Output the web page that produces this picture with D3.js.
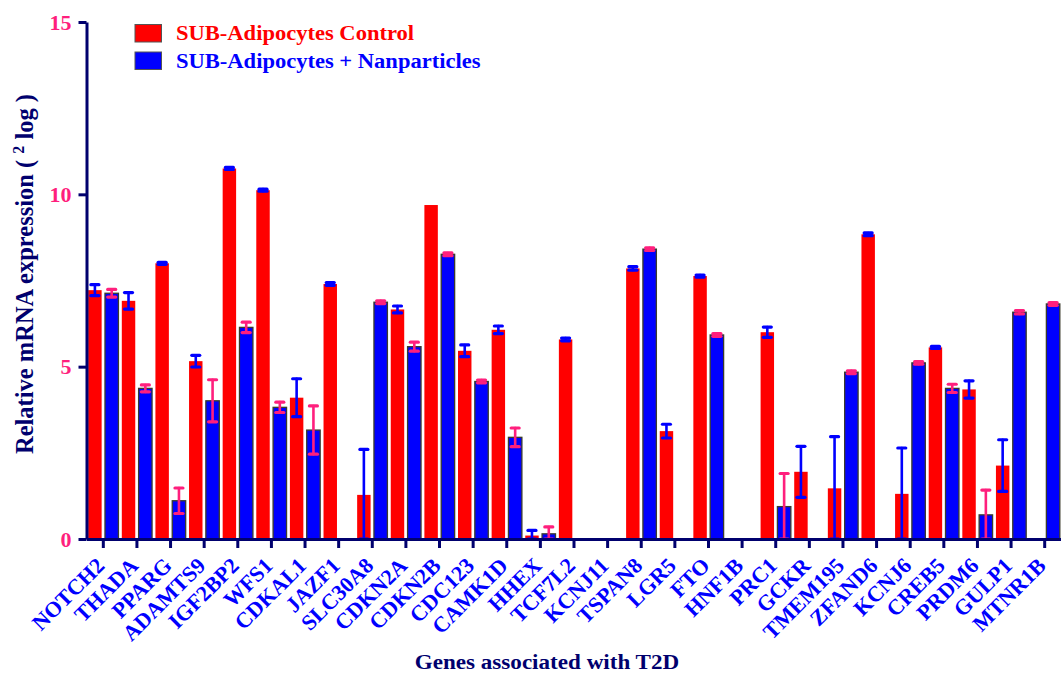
<!DOCTYPE html>
<html>
<head>
<meta charset="utf-8">
<script src="https://cdn.jsdelivr.net/npm/d3@7"></script>
<style>
    body { margin: 0; background: #fff; }
    svg { display: block; font-family: "Liberation Serif", "Times New Roman", serif; font-weight: bold; }
</style>
</head>
<body>
<svg id="chart" width="1061" height="673"></svg>
<script>
// Genes on the x axis
const genes = ['NOTCH2', 'THADA', 'PPARG', 'ADAMTS9', 'IGF2BP2', 'WFS1', 'CDKAL1', 'JAZF1',
    'SLC30A8', 'CDKN2A', 'CDKN2B', 'CDC123', 'CAMK1D', 'HHEX', 'TCF7L2', 'KCNJ11', 'TSPAN8',
    'LGR5', 'FTO', 'HNF1B', 'PRC1', 'GCKR', 'TMEM195', 'ZFAND6', 'KCNJ6', 'CREB5', 'PRDM6',
    'GULP1', 'MTNR1B'];

// SUB-Adipocytes Control (mean, error)
const controlValues = [7.22, 6.91, 8.0, 5.16, 10.75, 10.12, 4.1, 7.4, 1.28, 6.66, 9.69, 5.46,
    6.07, 0.1, 5.79, null, 7.85, 3.13, 7.63, null, 6.0, 1.95, 1.47, 8.84, 1.31, 5.56, 4.34,
    2.13, null];
const controlErrors = [0.16, 0.24, 0.03, 0.17, 0.03, 0.03, 0.55, 0.04, 1.32, 0.1, 0, 0.17,
    0.11, 0.15, 0.04, null, 0.05, 0.2, 0.03, null, 0.15, 0.74, 1.5, 0.04, 1.33, 0.03, 0.25,
    0.75, null];

// SUB-Adipocytes + Nanparticles (mean, error)
const nanoValues = [7.13, 4.37, 1.11, 4.01, 6.14, 3.82, 3.16, null, 6.87, 5.58, 8.26, 4.57,
    2.95, 0.15, null, null, 8.41, null, 5.92, null, 0.94, null, 4.84, null, 5.11, 4.37, 0.7,
    6.58, 6.82];
const nanoErrors = [0.11, 0.1, 0.37, 0.61, 0.15, 0.15, 0.7, null, 0.04, 0.13, 0.04, 0.04,
    0.27, 0.2, null, null, 0.04, null, 0.04, null, 0.96, null, 0.04, null, 0.04, 0.12, 0.72,
    0.05, 0.04];

const yTicks = [0, 5, 10, 15];

const seriesNames = ['SUB-Adipocytes Control', 'SUB-Adipocytes + Nanparticles'];
const seriesKeys = ['control', 'nano'];

const NAVY = '#00006e';
const PINK = '#ff1f7d';
const RED = '#ff0000';
const BLUE = '#0000ff';
const fillColor = { control: RED, nano: BLUE };
const errColor = { control: BLUE, nano: PINK };

const svg = d3.select('#chart');

const x = d3.scaleBand().domain(genes).range([86.5, 1061.5]).padding(0);
const xs = d3.scaleBand().domain(seriesKeys).range([0, x.bandwidth()])
    .paddingInner(0.2).paddingOuter(0.1);
const y = d3.scaleLinear().domain([0, 15]).range([539, 22]);

// flatten into bar records
const bars = [];
genes.forEach((g, i) => {
    bars.push({ gene: g, key: 'control', value: controlValues[i], err: controlErrors[i] });
    bars.push({ gene: g, key: 'nano', value: nanoValues[i], err: nanoErrors[i] });
});
const shown = bars.filter(d => d.value !== null);

// ===== bars =====
svg.append('g')
    .selectAll('rect')
    .data(shown)
    .join('rect')
    .attr('x', d => x(d.gene) + xs(d.key))
    .attr('y', d => y(d.value))
    .attr('width', xs.bandwidth())
    .attr('height', d => y(0) - y(d.value))
    .attr('fill', d => fillColor[d.key])
    .attr('stroke', d => d.key === 'nano' ? '#3b3b2c' : 'none')
    .attr('stroke-width', 1.3);

// ===== error bars =====
const errs = svg.append('g')
    .selectAll('g')
    .data(shown.filter(d => d.err))
    .join('g')
    .attr('stroke', d => errColor[d.key])
    .attr('stroke-linecap', 'round');

const cx = d => x(d.gene) + xs(d.key) + xs.bandwidth() / 2;
const lo = d => y(Math.max(0, d.value - d.err));
const hi = d => y(d.value + d.err);

errs.append('line')
    .attr('x1', cx).attr('x2', cx)
    .attr('y1', lo).attr('y2', hi)
    .attr('stroke-width', 2.6);
errs.append('line')
    .attr('x1', d => cx(d) - 4).attr('x2', d => cx(d) + 4)
    .attr('y1', hi).attr('y2', hi)
    .attr('stroke-width', 3.2);
errs.append('line')
    .attr('x1', d => cx(d) - 4).attr('x2', d => cx(d) + 4)
    .attr('y1', lo).attr('y2', lo)
    .attr('stroke-width', 3.2);

// ===== axes =====
const xAxis = svg.append('g')
    .attr('transform', `translate(0,${y(0)})`)
    .call(d3.axisBottom(x).tickSize(9).tickSizeOuter(0).tickFormat(''));
xAxis.select('.domain').attr('stroke', NAVY).attr('stroke-width', 3);
xAxis.selectAll('.tick line').attr('stroke', NAVY).attr('stroke-width', 3);

svg.append('g')
    .selectAll('text')
    .data(genes)
    .join('text')
    .attr('transform', d => `translate(${x(d) + x.bandwidth() / 2 + 2.5},567) rotate(-45)`)
    .attr('text-anchor', 'end')
    .attr('fill', BLUE)
    .attr('font-size', 22)
    .text(d => d);

const yAxis = svg.append('g')
    .attr('transform', 'translate(86.5,0)')
    .call(d3.axisLeft(y).tickValues(yTicks).tickSize(8).tickSizeOuter(0).tickPadding(7));
yAxis.select('.domain').attr('stroke', NAVY).attr('stroke-width', 3);
yAxis.selectAll('.tick line').attr('stroke', NAVY).attr('stroke-width', 3);
yAxis.selectAll('.tick text')
    .attr('fill', PINK)
    .attr('font-size', 22)
    .attr('font-family', '"Liberation Serif", "Times New Roman", serif')
    .attr('font-weight', 'bold');

// ===== axis titles =====
const yTitle = svg.append('text')
    .attr('transform', 'translate(33,274) rotate(-90)')
    .attr('text-anchor', 'middle')
    .attr('fill', NAVY)
    .attr('font-size', 24.5);
yTitle.append('tspan').text('Relative mRNA expression (  ');
yTitle.append('tspan').attr('font-size', 16).attr('dy', -9).text('2');
yTitle.append('tspan').attr('dy', 9).text(' log )');

svg.append('text')
    .attr('transform', 'translate(547,669) scale(1.1,1)')
    .attr('text-anchor', 'middle')
    .attr('fill', NAVY)
    .attr('font-size', 21)
    .text('Genes associated with T2D');

// ===== legend =====
const legend = svg.append('g')
    .selectAll('g')
    .data(seriesKeys)
    .join('g')
    .attr('transform', (d, i) => `translate(135,${24.5 + i * 27.5})`);
legend.append('rect')
    .attr('width', 26.5)
    .attr('height', 17.5)
    .attr('fill', d => fillColor[d])
    .attr('stroke', '#555')
    .attr('stroke-width', 1);
legend.append('text')
    .attr('transform', 'translate(41,15.5) scale(1.1,1)')
    .attr('fill', d => fillColor[d])
    .attr('font-size', 20.5)
    .text((d, i) => seriesNames[i]);
</script>
</body>
</html>
